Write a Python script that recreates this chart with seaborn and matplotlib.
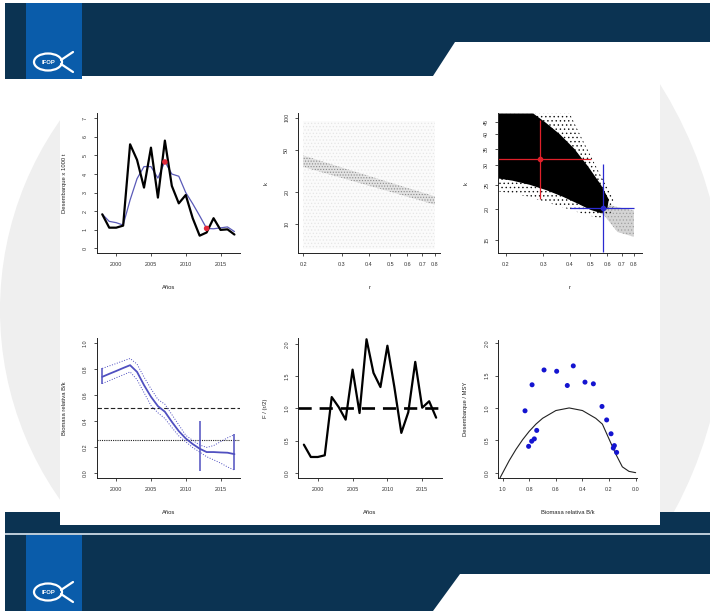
import seaborn as sns
import matplotlib as mpl
import matplotlib.pyplot as plt
from matplotlib.patches import Rectangle, Polygon, Ellipse, Wedge


sns.set_theme(style='ticks')
plt.rcParams['font.family'] = ['Liberation Sans', 'DejaVu Sans']
plt.rcParams['hatch.linewidth'] = 0.6

# ---- data ----
anios = [1998, 1999, 2000, 2001, 2002, 2003, 2004, 2005, 2006, 2007,
         2008, 2009, 2010, 2011, 2012, 2013, 2014, 2015, 2016, 2017]
desembarque = [1.83, 1.11, 1.11, 1.22, 5.60, 4.76, 3.27, 5.42, 2.73, 5.80,
               3.36, 2.42, 2.87, 1.62, 0.68, 0.85, 1.62, 0.99, 1.02, 0.74]
desemb_suav = [1.83, 1.45, 1.38, 1.25, 2.60, 3.75, 4.40, 4.40, 3.78, 4.67,
               4.00, 3.88, 3.00, 2.40, 1.75, 1.07, 1.05, 1.10, 1.15, 0.90]
anios_rojo = [2007, 2013]
desemb_rojo = [4.65, 1.07]

# r-k: todos los pares probados / pares viables
fondo_r = [0.2, 0.8]
fondo_k_lo = [5.8, 5.8]
fondo_k_hi = [93, 93]
banda_r = [0.2, 0.3, 0.4, 0.55, 0.8]
banda_k_hi = [44.2, 34.0, 28.3, 23.1, 18.2]
banda_k_lo = [34.4, 27.1, 22.9, 19.0, 15.2]

# nube de r-k aceptados (borde superior / inferior)
nube_sup_r = [0.186, 0.27, 0.31, 0.36, 0.42, 0.49, 0.56, 0.61]
nube_sup_k = [48.6, 48.6, 44.5, 40.0, 35.0, 29.5, 25.0, 21.8]
nube_inf_r = [0.186, 0.215, 0.26, 0.31, 0.37, 0.44, 0.50, 0.56, 0.600]
nube_inf_k = [26.5, 26.0, 25.0, 23.8, 22.4, 20.9, 19.8, 19.2, 20.0]
halo_sup_r = [0.186, 0.40, 0.46, 0.55, 0.64]
halo_sup_k = [48.6, 48.6, 38.0, 28.0, 22.0]
halo_inf_r = [0.186, 0.25, 0.35, 0.45, 0.55, 0.64]
halo_inf_k = [23.5, 22.5, 20.6, 19.2, 18.3, 19.5]
gris_r = [0.54, 0.58, 0.67, 0.80]
gris_k_hi = [21.6, 21.0, 20.3, 19.7]
gris_k_lo = [19.5, 18.8, 16.1, 15.4]
cmsy_r, cmsy_r_lo, cmsy_r_hi = 0.289, 0.185, 0.505
cmsy_k, cmsy_k_lo, cmsy_k_hi = 31.7, 21.9, 45.7
bsm_r, bsm_r_lo, bsm_r_hi = 0.573, 0.40, 0.80
bsm_k, bsm_k_lo, bsm_k_hi = 20.2, 13.3, 30.3

# biomasa relativa
bk = [0.742, 0.765, 0.787, 0.810, 0.832, 0.780, 0.678, 0.588, 0.515, 0.472,
      0.394, 0.322, 0.265, 0.222, 0.186, 0.160, 0.160, 0.157, 0.155, 0.144]
bk_sup = [0.807, 0.826, 0.845, 0.865, 0.884, 0.840, 0.740, 0.650, 0.567, 0.530,
          0.450, 0.370, 0.290, 0.250, 0.215, 0.196, 0.210, 0.240, 0.270, 0.295]
bk_inf = [0.690, 0.712, 0.735, 0.757, 0.780, 0.720, 0.620, 0.520, 0.464, 0.420,
          0.350, 0.285, 0.240, 0.195, 0.160, 0.124, 0.100, 0.075, 0.045, 0.020]
barra_anio = [1998, 2012, 2017]
barra_lo = [0.69, 0.01, 0.02]
barra_hi = [0.81, 0.40, 0.30]

# F / (r/2)
f_rel = [0.438, 0.247, 0.247, 0.273, 1.175, 1.020, 0.825, 1.600, 0.928, 2.070,
         1.550, 1.330, 1.970, 1.330, 0.620, 0.940, 1.720, 1.010, 1.110, 0.856]

# desembarque / MSY vs B/k
pts_bk = [0.832, 0.805, 0.782, 0.779, 0.762, 0.744, 0.689, 0.594, 0.514,
          0.469, 0.381, 0.318, 0.253, 0.218, 0.185, 0.168, 0.160, 0.143]
pts_msy = [0.956, 0.407, 0.486, 1.358, 0.522, 0.653, 1.587, 1.567, 1.347,
           1.650, 1.399, 1.373, 1.023, 0.815, 0.601, 0.381, 0.418, 0.313]
curva_bk = [1.02, 0.95, 0.90, 0.85, 0.80, 0.75, 0.70, 0.60, 0.50, 0.40,
            0.30, 0.25, 0.20, 0.15, 0.10, 0.05, 0.00]
curva_msy = [-0.08, 0.19, 0.36, 0.51, 0.64, 0.75, 0.84, 0.96, 1.00, 0.96,
             0.84, 0.75, 0.52, 0.29, 0.09, 0.02, 0.00]

# ---- figure / slide ----
W, H = 710, 611
NAVY = '#0b3352'
AZUL = '#0a5caa'
fig = plt.figure(figsize=(W / 100, H / 100), dpi=100)
fig.patch.set_facecolor('white')

bg = fig.add_axes([0, 0, 1, 1])
bg.set_xlim(0, W)
bg.set_ylim(H, 0)
bg.axis('off')

# marca de agua gris, solo visible a los lados del panel
w1 = Wedge((330, 310), 330, 0, 360, width=75, color='#efefef', lw=0)
w2 = Wedge((300, 310), 425, 0, 360, width=80, color='#f0f0f0', lw=0)
for w, clip in ((w1, Rectangle((0, 80), 60, 432)),
                (w2, Rectangle((660, 80), 50, 432))):
    bg.add_patch(w)
    clip.set_transform(bg.transData)
    w.set_clip_path(clip)

# banner superior
bg.add_patch(Polygon([(5, 3), (W, 3), (W, 42), (455, 42), (433, 76),
                      (60, 76), (60, 79), (5, 79)], closed=True,
                     color=NAVY, lw=0))
bg.add_patch(Rectangle((26, 3), 56, 76, color=AZUL, lw=0))
# banner inferior
bg.add_patch(Rectangle((5, 512), W - 5, 21, color=NAVY, lw=0))
bg.add_patch(Rectangle((5, 533), W - 5, 2, color='#b9c9d6', lw=0))
bg.add_patch(Rectangle((5, 535), W - 5, H - 535, color=NAVY, lw=0))
bg.add_patch(Polygon([(460, 574), (W, 574), (W, H), (433, H)], closed=True,
                     color='white', lw=0))
bg.add_patch(Rectangle((26, 535), 56, H - 535, color=AZUL, lw=0))
# panel blanco
bg.add_patch(Rectangle((60, 80), 600, 445, color='white', lw=0))


def logo(cx, cy):
    bg.add_patch(Ellipse((cx - 4, cy), 28, 17, fill=False, ec='white', lw=1.6))
    bg.plot([cx + 9, cx + 21], [cy - 2, cy - 10], color='white', lw=1.6)
    bg.plot([cx + 9, cx + 21], [cy + 2, cy + 10], color='white', lw=1.6)
    bg.text(cx - 4, cy, 'IFOP', color='white', fontsize=4.2,
            fontweight='bold', ha='center', va='center')


logo(52, 62)
logo(52, 592)


def box(l, t, r, b):
    return [l / W, 1 - b / H, (r - l) / W, (b - t) / H]


def estilo_r(ax, xlabel, ylabel):
    sns.despine(ax=ax)
    ax.set_facecolor('none')
    for s in ('left', 'bottom'):
        ax.spines[s].set_linewidth(0.7)
        ax.spines[s].set_color('#222222')
    ax.tick_params(length=2.5, width=0.6, labelsize=3.9, pad=4,
                   colors='#333333', direction='out')
    ax.minorticks_off()
    for lab in ax.get_yticklabels():
        lab.set_rotation(90)
        lab.set_va('center')
    ax.set_xlabel(xlabel, fontsize=4.2, labelpad=12.5, color='#222222')
    ax.set_ylabel(ylabel, fontsize=4.2, labelpad=11.5, color='#222222')


ticks_anio = [2000, 2005, 2010, 2015]

# 1. desembarque
ax1 = fig.add_axes(box(96.7, 113.3, 240, 253.3))
sns.lineplot(x=anios, y=desemb_suav, ax=ax1, color='#5a5ab8', lw=0.9)
sns.lineplot(x=anios, y=desembarque, ax=ax1, color='black', lw=1.6)
sns.scatterplot(x=anios_rojo, y=desemb_rojo, ax=ax1, color='#e0283a',
                s=16, edgecolor='none', zorder=5)
ax1.set_xlim(1997.2, 2017.8)
ax1.set_ylim(-0.27, 7.27)
ax1.set_xticks(ticks_anio)
ax1.set_yticks([0, 1, 2, 3, 4, 5, 6, 7])
estilo_r(ax1, 'Años', 'Desembarque x 1000 t')

# 2. r-k todos
ax2 = fig.add_axes(box(298.3, 113.3, 440, 253.3))
ax2.set_xscale('log')
ax2.set_yscale('log')
with mpl.rc_context({'hatch.linewidth': 0.5}):
    ax2.fill_between(fondo_r, fondo_k_lo, fondo_k_hi, facecolor='#fbfbfb',
                     hatch='.....', edgecolor='#e6e6e6', lw=0)
    ax2.fill_between(banda_r, banda_k_lo, banda_k_hi, facecolor='#e2e2e2',
                     hatch='......', edgecolor='#8c8c8c', lw=0)
ax2.set_xlim(0.19, 0.845)
ax2.set_ylim(5.3, 110)
ax2.set_xticks([0.2, 0.3, 0.4, 0.5, 0.6, 0.7, 0.8])
ax2.set_xticklabels(['0.2', '0.3', '0.4', '0.5', '0.6', '0.7', '0.8'])
ax2.set_yticks([10, 20, 50, 100])
ax2.set_yticklabels(['10', '20', '50', '100'])
estilo_r(ax2, 'r', 'k')

# 3. r-k aceptados
ax3 = fig.add_axes(box(498.3, 113.3, 641.7, 253.3))
ax3.set_xscale('log')
ax3.set_yscale('log')
with mpl.rc_context({'hatch.linewidth': 0.5}):
    ax3.fill_between(gris_r, gris_k_lo, gris_k_hi, facecolor='#d4d4d4',
                     hatch='.....', edgecolor='#a0a0a0', lw=0)
    ax3.fill(halo_sup_r + halo_inf_r[::-1], halo_sup_k + halo_inf_k[::-1],
             facecolor='none', hatch='....', edgecolor='#111111', lw=0)
ax3.fill(nube_sup_r + nube_inf_r[::-1], nube_sup_k + nube_inf_k[::-1],
         color='black', lw=0)
ax3.errorbar([cmsy_r], [cmsy_k],
             xerr=[[cmsy_r - cmsy_r_lo], [cmsy_r_hi - cmsy_r]],
             yerr=[[cmsy_k - cmsy_k_lo], [cmsy_k_hi - cmsy_k]],
             fmt='o', ms=3, color='#e0202a', elinewidth=0.9, capsize=0)
ax3.errorbar([bsm_r], [bsm_k],
             xerr=[[bsm_r - bsm_r_lo], [bsm_r_hi - bsm_r]],
             yerr=[[bsm_k - bsm_k_lo], [bsm_k_hi - bsm_k]],
             fmt='o', ms=3, color='#2a2ad0', elinewidth=0.9, capsize=0)
ax3.set_xlim(0.185, 0.87)
ax3.set_ylim(13.2, 48.7)
ax3.set_xticks([0.2, 0.3, 0.4, 0.5, 0.6, 0.7, 0.8])
ax3.set_xticklabels(['0.2', '0.3', '0.4', '0.5', '0.6', '0.7', '0.8'])
ax3.set_yticks([15, 20, 25, 30, 35, 40, 45])
ax3.set_yticklabels(['15', '20', '25', '30', '35', '40', '45'])
estilo_r(ax3, 'r', 'k')

# 4. biomasa relativa
ax4 = fig.add_axes(box(96.7, 338.3, 240, 478.3))
ax4.axhline(0.5, color='#222222', lw=0.8, ls=(0, (4, 2)))
ax4.axhline(0.25, color='#222222', lw=0.8, ls=(0, (1, 1)))
sns.lineplot(x=anios, y=bk_sup, ax=ax4, color='#4c4cc0', lw=0.7, ls=':')
sns.lineplot(x=anios, y=bk_inf, ax=ax4, color='#4c4cc0', lw=0.7, ls=':')
sns.lineplot(x=anios, y=bk, ax=ax4, color='#5050c0', lw=1.3)
ax4.vlines(barra_anio, barra_lo, barra_hi, color='#5050c0', lw=1.1)
ax4.set_xlim(1997.2, 2017.8)
ax4.set_ylim(-0.043, 1.04)
ax4.set_xticks(ticks_anio)
ax4.set_yticks([0.0, 0.2, 0.4, 0.6, 0.8, 1.0])
ax4.set_yticklabels(['0.0', '0.2', '0.4', '0.6', '0.8', '1.0'])
estilo_r(ax4, 'Años', 'Biomasa relativa B/k')

# 5. F / (r/2)
ax5 = fig.add_axes(box(298.3, 338.3, 441.7, 478.3))
ax5.axhline(1.0, color='black', lw=1.9, ls=(0, (5, 3)))
sns.lineplot(x=anios, y=f_rel, ax=ax5, color='black', lw=1.6)
ax5.set_xlim(1997.2, 2017.8)
ax5.set_ylim(-0.083, 2.085)
ax5.set_xticks(ticks_anio)
ax5.set_yticks([0.0, 0.5, 1.0, 1.5, 2.0])
ax5.set_yticklabels(['0.0', '0.5', '1.0', '1.5', '2.0'])
estilo_r(ax5, 'Años', 'F / (r/2)')

# 6. desembarque / MSY vs B/k
ax6 = fig.add_axes(box(498.3, 340, 636.7, 478.3))
sns.lineplot(x=curva_bk, y=curva_msy, ax=ax6, color='#222222', lw=0.8)
sns.scatterplot(x=pts_bk, y=pts_msy, ax=ax6, color='#1414d0', s=13,
                edgecolor='none', zorder=5)
ax6.set_xlim(1.033, -0.008)
ax6.set_ylim(-0.087, 2.05)
ax6.set_xticks([1.0, 0.8, 0.6, 0.4, 0.2, 0.0])
ax6.set_xticklabels(['1.0', '0.8', '0.6', '0.4', '0.2', '0.0'])
ax6.set_yticks([0.0, 0.5, 1.0, 1.5, 2.0])
ax6.set_yticklabels(['0.0', '0.5', '1.0', '1.5', '2.0'])
estilo_r(ax6, 'Biomasa relativa B/k', 'Desembarque / MSY')

fig.savefig('out.png', dpi=100)
